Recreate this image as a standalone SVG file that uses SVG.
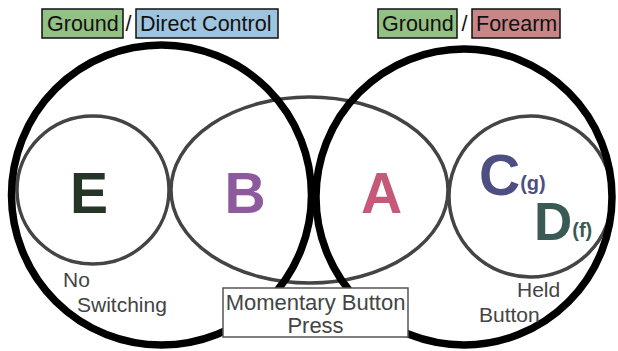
<svg xmlns="http://www.w3.org/2000/svg" width="618" height="351" viewBox="0 0 618 351">
<style>
.sm{fill:none;stroke:#444;stroke-width:3.5}
.big{fill:none;stroke:#000;stroke-width:7.5}
.lbl{font-family:"Liberation Sans",Arial,sans-serif;font-size:21.5px;fill:#111}
.cap{font-family:"Liberation Sans",Arial,sans-serif;font-size:21px;fill:#444}
.let{font-family:"Liberation Sans",Arial,sans-serif;font-size:57px;font-weight:bold}
.sub{font-size:20px}
.tag{stroke:#111;stroke-width:1.5}
</style>
<g id="connectors"></g>
<g id="node-E"><ellipse class="sm" cx="93" cy="190" rx="76" ry="74"/></g>
<g id="node-BA"><ellipse class="sm" cx="309.5" cy="190" rx="138.5" ry="93"/></g>
<g id="node-CD"><ellipse class="sm" cx="530.5" cy="196.5" rx="81.5" ry="80.5"/></g>
<g id="set-left"><circle class="big" cx="161.5" cy="195" r="150"/></g>
<g id="set-right"><circle class="big" cx="464" cy="197" r="148"/></g>
<g id="label-left">
<rect class="tag" x="42" y="9" width="81" height="29" fill="#93c083"/>
<text class="lbl" x="47" y="31">Ground</text>
<text class="lbl" x="125.5" y="31">/</text>
<rect class="tag" x="136" y="9" width="142" height="29" fill="#9fc4e0"/>
<text class="lbl" x="140" y="31">Direct Control</text>
</g>
<g id="label-right">
<rect class="tag" x="378" y="9" width="79" height="29" fill="#93c083"/>
<text class="lbl" x="382" y="31">Ground</text>
<text class="lbl" x="461.5" y="31">/</text>
<rect class="tag" x="472" y="9" width="88" height="29" fill="#c98686"/>
<text class="lbl" x="476" y="31">Forearm</text>
</g>
<g id="letters">
<text class="let" x="89" y="213" text-anchor="middle" fill="#263528">E</text>
<text class="let" x="245" y="213" text-anchor="middle" fill="#8e5a9e">B</text>
<text class="let" x="381.5" y="213" text-anchor="middle" fill="#c45a78">A</text>
<text class="let" x="479" y="195" fill="#4c4f80">C<tspan class="sub" dy="-5">(g)</tspan></text>
<text class="let" x="534" y="240" fill="#3a5a55" style="font-size:53px">D<tspan class="sub" dy="-3">(f)</tspan></text>
</g>
<g id="caption-E">
<text class="cap" x="63" y="287">No</text>
<text class="cap" x="77" y="312">Switching</text>
</g>
<g id="caption-CD">
<text class="cap" x="517" y="297">Held</text>
<text class="cap" x="479" y="322">Button</text>
</g>
<g id="caption-BA">
<rect x="223" y="288" width="185" height="49" fill="#fff" stroke="#555" stroke-width="1.5"/>
<text class="cap" x="315.5" y="310" text-anchor="middle" style="font-size:22px">Momentary Button</text>
<text class="cap" x="315.5" y="333" text-anchor="middle" style="font-size:22px">Press</text>
</g>
</svg>
